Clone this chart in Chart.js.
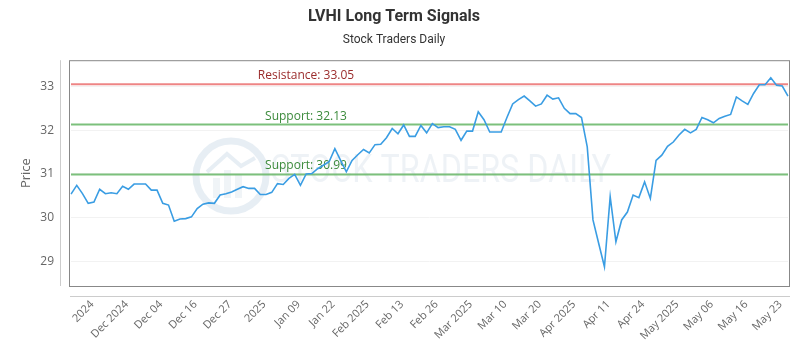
<!DOCTYPE html>
<html>
<head>
<meta charset="utf-8">
<script src="https://cdn.jsdelivr.net/npm/chart.js@4.4.1/dist/chart.umd.min.js"></script>
<style>
    html, body { margin: 0; padding: 0; background: #fff; }
    #wrap { width: 800px; height: 350px; }
</style>
</head>
<body>
<div id="wrap"><canvas id="signals-chart"></canvas></div>
<script>
const dates = [
    '2024-11-20', '2024-11-21', '2024-11-22', '2024-11-25', '2024-11-26', '2024-11-27', '2024-11-29',
    '2024-12-02', '2024-12-03', '2024-12-04', '2024-12-05', '2024-12-06', '2024-12-09', '2024-12-10',
    '2024-12-11', '2024-12-12', '2024-12-13', '2024-12-16', '2024-12-17', '2024-12-18', '2024-12-19',
    '2024-12-20', '2024-12-23', '2024-12-24', '2024-12-26', '2024-12-27', '2024-12-30', '2024-12-31',
    '2025-01-02', '2025-01-03', '2025-01-06', '2025-01-07', '2025-01-08', '2025-01-10', '2025-01-13',
    '2025-01-14', '2025-01-15', '2025-01-16', '2025-01-17', '2025-01-21', '2025-01-22', '2025-01-23',
    '2025-01-24', '2025-01-27', '2025-01-28', '2025-01-29', '2025-01-30', '2025-01-31',
    '2025-02-03', '2025-02-04', '2025-02-05', '2025-02-06', '2025-02-07', '2025-02-10', '2025-02-11',
    '2025-02-12', '2025-02-13', '2025-02-14', '2025-02-18', '2025-02-19', '2025-02-20', '2025-02-21',
    '2025-02-24', '2025-02-25', '2025-02-26', '2025-02-27', '2025-02-28',
    '2025-03-03', '2025-03-04', '2025-03-05', '2025-03-06', '2025-03-07', '2025-03-10', '2025-03-11',
    '2025-03-12', '2025-03-13', '2025-03-14', '2025-03-17', '2025-03-18', '2025-03-19', '2025-03-20',
    '2025-03-21', '2025-03-24', '2025-03-25', '2025-03-26', '2025-03-27', '2025-03-28', '2025-03-31',
    '2025-04-01', '2025-04-02', '2025-04-03', '2025-04-04', '2025-04-07', '2025-04-08', '2025-04-09',
    '2025-04-10', '2025-04-11', '2025-04-14', '2025-04-15', '2025-04-16', '2025-04-17', '2025-04-21',
    '2025-04-22', '2025-04-23', '2025-04-24', '2025-04-25', '2025-04-28', '2025-04-29', '2025-04-30',
    '2025-05-01', '2025-05-02', '2025-05-05', '2025-05-06', '2025-05-07', '2025-05-08', '2025-05-09',
    '2025-05-12', '2025-05-13', '2025-05-14', '2025-05-15', '2025-05-16', '2025-05-19', '2025-05-20',
    '2025-05-21', '2025-05-22', '2025-05-23'
];

const prices = [
    30.54, 30.74, 30.55, 30.33, 30.36, 30.65, 30.55,
    30.57, 30.55, 30.72, 30.65, 30.77, 30.77, 30.77,
    30.63, 30.63, 30.33, 30.29, 29.92, 29.97, 29.98,
    30.02, 30.21, 30.31, 30.34, 30.33, 30.52, 30.55,
    30.59, 30.65, 30.71, 30.67, 30.67, 30.53, 30.53,
    30.58, 30.78, 30.76, 30.90, 30.99, 30.74, 31.00,
    31.01, 31.12, 31.20, 31.28, 31.58, 31.31,
    31.05, 31.31, 31.44, 31.56, 31.48, 31.67, 31.68,
    31.83, 32.04, 31.92, 32.12, 31.86, 31.86, 32.11,
    31.94, 32.15, 32.06, 32.08, 32.08,
    32.02, 31.77, 31.98, 31.98, 32.42, 32.24, 31.96,
    31.96, 31.96, 32.29, 32.60, 32.70, 32.78, 32.67,
    32.55, 32.60, 32.80, 32.71, 32.74, 32.50, 32.38,
    32.38, 32.29, 31.62, 29.95, 29.41, 28.88, 30.48,
    29.45, 29.95, 30.13, 30.52, 30.46, 30.82, 30.44,
    31.31, 31.43, 31.63, 31.73, 31.89, 32.02, 31.94,
    32.02, 32.29, 32.24, 32.17, 32.27, 32.32, 32.36,
    32.76, 32.67, 32.59, 32.84, 33.04, 33.04, 33.20,
    33.03, 33.01, 32.78
];

const xTickLabels = ['2024', 'Dec 2024', 'Dec 04', 'Dec 16', 'Dec 27', '2025', 'Jan 09', 'Jan 22',
    'Feb 2025', 'Feb 13', 'Feb 26', 'Mar 2025', 'Mar 10', 'Mar 20', 'Apr 2025', 'Apr 11', 'Apr 24',
    'May 2025', 'May 06', 'May 16', 'May 23'];
const yTicks = [29, 30, 31, 32, 33];

const levelValues = [33.05, 32.13, 30.99];
const levelNames = ['Resistance', 'Support', 'Support'];

// signal lines, plot frame and the faint watermark
const signalPlugin = {
    id: 'signals',
    beforeDatasetsDraw(chart) {
        const {ctx, chartArea: a, scales: {y}} = chart;
        ctx.save();
        // watermark
        const cx = a.left + 160, cy = 176;
        ctx.strokeStyle = 'rgba(195, 212, 228, 0.4)';
        ctx.lineWidth = 7;
        ctx.beginPath();
        ctx.arc(cx, cy, 35, 0, Math.PI * 2);
        ctx.stroke();
        ctx.fillStyle = 'rgba(205, 218, 230, 0.3)';
        ctx.fillRect(cx - 18, cy + 2, 7, 20);
        ctx.fillRect(cx - 7, cy - 6, 7, 28);
        ctx.fillRect(cx + 4, cy - 1, 7, 23);
        ctx.beginPath();
        ctx.moveTo(cx - 24, cy - 4);
        ctx.lineTo(cx - 4, cy - 22);
        ctx.lineTo(cx + 10, cy - 10);
        ctx.lineTo(cx + 24, cy - 18);
        ctx.lineWidth = 4;
        ctx.stroke();
        ctx.font = '38px "Liberation Sans Narrow", Roboto, sans-serif';
        ctx.fillStyle = 'rgba(200, 212, 224, 0.3)';
        ctx.textAlign = 'left';
        ctx.textBaseline = 'middle';
        ctx.fillText('STOCK TRADERS DAILY', cx + 40, cy - 4, 340);

        // resistance / support lines
        levelValues.forEach((v, i) => {
            const py = y.getPixelForValue(v);
            const isRes = levelNames[i] === 'Resistance';
            ctx.strokeStyle = isRes ? 'rgba(236, 120, 120, 0.9)' : 'rgba(110, 185, 110, 0.9)';
            ctx.lineWidth = 2;
            ctx.beginPath();
            ctx.moveTo(a.left, py);
            ctx.lineTo(a.right, py);
            ctx.stroke();
            ctx.font = '12px "Open Sans", sans-serif';
            ctx.fillStyle = isRes ? '#9b2c2c' : '#3b8a3b';
            ctx.textAlign = 'center';
            ctx.textBaseline = 'alphabetic';
            ctx.fillText(levelNames[i] + ': ' + v.toFixed(2), a.left + 235, py - 5);
        });
        ctx.restore();
    },
    afterDraw(chart) {
        const {ctx, chartArea: a} = chart;
        ctx.save();
        ctx.lineWidth = 1;
        ctx.strokeStyle = '#888';
        ctx.strokeRect(a.left - 1.5, a.top + 0.5, a.right - a.left + 3, a.bottom - a.top);
        ctx.strokeStyle = '#ccc';
        ctx.beginPath();
        ctx.moveTo(a.left - 10.5, a.top);
        ctx.lineTo(a.left - 10.5, a.bottom);
        ctx.moveTo(a.left - 1, a.bottom + 10.5);
        ctx.lineTo(a.right + 2, a.bottom + 10.5);
        ctx.stroke();
        ctx.restore();
    }
};

new Chart(document.getElementById('signals-chart'), {
    type: 'line',
    data: {
        labels: dates,
        datasets: [{
            label: 'LVHI',
            data: prices,
            borderColor: '#3a9de3',
            borderWidth: 1.6,
            pointRadius: 0,
            tension: 0,
            fill: false
        }]
    },
    options: {
        responsive: true,
        maintainAspectRatio: false,
        animation: false,
        layout: {
            padding: {left: 0, right: 12, top: 0, bottom: 0}
        },
        plugins: {
            legend: {display: false},
            tooltip: {enabled: false},
            title: {
                display: true,
                text: 'LVHI Long Term Signals',
                color: '#333',
                font: {family: 'Roboto, sans-serif', size: 16, weight: 'bold', lineHeight: 1.2},
                padding: {top: 7, bottom: 5}
            },
            subtitle: {
                display: true,
                text: 'Stock Traders Daily',
                color: '#333',
                font: {family: 'Roboto, sans-serif', size: 12, lineHeight: 1.2},
                padding: {top: 2, bottom: 12.6}
            }
        },
        scales: {
            x: {
                offset: false,
                grid: {display: false, drawTicks: false},
                border: {display: false},
                afterFit(scale) {
                    scale.height = 64;
                    scale.paddingLeft = 0;
                    scale.paddingRight = 0;
                },
                ticks: {
                    autoSkip: false,
                    minRotation: 45,
                    maxRotation: 45,
                    padding: 12,
                    labelOffset: 4,
                    color: '#666',
                    font: {family: '"Open Sans", sans-serif', size: 11},
                    callback: function (val, i) {
                        return i % 6 === 3 ? xTickLabels[(i - 3) / 6] : '';
                    }
                }
            },
            y: {
                min: 28.44,
                max: 33.6,
                afterBuildTicks(scale) {
                    scale.ticks = yTicks.map(v => ({value: v}));
                },
                afterFit(scale) {
                    scale.width = 71;
                },
                grid: {color: '#f2f2f2', drawTicks: false},
                border: {display: false},
                ticks: {
                    padding: 17,
                    color: '#666',
                    font: {family: '"Open Sans", sans-serif', size: 12}
                },
                title: {
                    display: true,
                    text: 'Price',
                    color: '#666',
                    font: {family: '"Open Sans", sans-serif', size: 13},
                    padding: {top: 18, bottom: 0}
                }
            }
        }
    },
    plugins: [signalPlugin]
});
</script>
</body>
</html>
